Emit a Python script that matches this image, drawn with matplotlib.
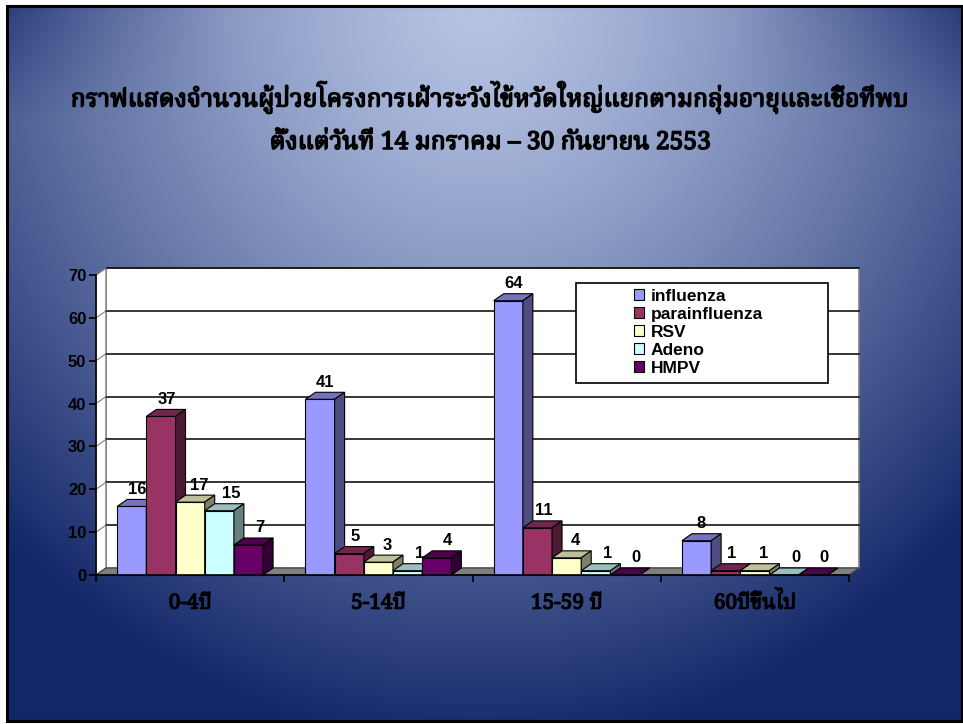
import matplotlib
matplotlib.use('Agg')
import matplotlib.pyplot as plt
from matplotlib.patches import Polygon, Rectangle
from matplotlib import font_manager
import matplotlib.patheffects as pe
import numpy as np

groups = ['0-4ปี', '5-14ปี', '15-59 ปี', '60ปีขึ้นไป']
series = ['influenza', 'parainfluenza', 'RSV', 'Adeno', 'HMPV']
influenza = [16, 41, 64, 8]
parainfluenza = [37, 5, 11, 1]
rsv = [17, 3, 4, 1]
adeno = [15, 1, 1, 0]
hmpv = [7, 4, 0, 0]
values = [influenza, parainfluenza, rsv, adeno, hmpv]
colors = ['#9999FF', '#993366', '#FFFFCC', '#CCFFFF', '#660066']
yticks = list(range(0, 80, 10))
title1 = 'กราฟแสดงจำนวนผู้ป่วยโครงการเฝ้าระวังไข้หวัดใหญ่แยกตามกลุ่มอายุและเชื้อที่พบ'
title2 = 'ตั้งแต่วันที่ 14 มกราคม – 30 กันยายน 2553'


def find_thai_font():
    # look for any installed font that has Thai glyphs
    try:
        from fontTools.ttLib import TTFont
    except ImportError:
        return None
    prefer = ['Norasi', 'Noto Serif Thai', 'Tlwg Typo', 'Garuda', 'Loma', 'Noto Sans Thai',
              'Kinnari', 'Sawasdee', 'Umpush', 'Waree', 'Laksaman']
    found = []
    for f in font_manager.fontManager.ttflist:
        try:
            cmap = TTFont(f.fname, fontNumber=0, lazy=True).getBestCmap()
        except Exception:
            continue
        if cmap and 0x0E01 in cmap:
            found.append(f.name)
    if not found:
        return None
    for p in prefer:
        if p in found:
            return p
    return found[0]


thai = find_thai_font()
tfam = [thai, 'DejaVu Sans'] if thai else ['DejaVu Sans']
afam = ['Liberation Sans', 'DejaVu Sans']
fake_bold = lambda lw: [pe.withStroke(linewidth=lw, foreground='black')]

W, H = 963, 724
fig = plt.figure(figsize=(W / 100, H / 100), dpi=100)
fig.patch.set_facecolor('white')

# slide background with radial gradient
bg = fig.add_axes([0, 0, 1, 1])
bg.set_xlim(0, W)
bg.set_ylim(H, 0)
bg.axis('off')
xx, yy = np.meshgrid(np.arange(7, 962), np.arange(6, 721))
d = np.sqrt(((xx - 480) / 690.0) ** 2 + (yy / 750.0) ** 2)
t = np.clip(d, 0, 1) ** 1.3
# a bit darker towards the top corners
t = np.clip(t + 0.25 * np.clip(1 - yy / 120.0, 0, 1) * np.clip((np.abs(xx - 480) - 250) / 230.0, 0, 1), 0, 1)
light = np.array([182, 196, 228]) / 255.0
dark = np.array([18, 38, 104]) / 255.0
img = light[None, None, :] * (1 - t[..., None]) + dark[None, None, :] * t[..., None]
bg.imshow(img, extent=(7, 962, 721, 6), aspect='auto', interpolation='bilinear')
bg.add_patch(Rectangle((7, 6), 955, 715, fill=False, ec='black', lw=2.2))

# title
for txt, yc in [(title1, 97), (title2, 142)]:
    bg.text(490, yc, txt, ha='center', va='center', fontsize=21, fontweight='bold',
            family=tfam, color='black', path_effects=fake_bold(1.1))

# fit title widths
fig.canvas.draw()
r = fig.canvas.get_renderer()
tl = bg.texts
w1 = tl[0].get_window_extent(r).width
if w1 > 838:
    s = 21 * 838 / w1
    for tx in tl:
        tx.set_fontsize(s)

# plot area
ax = fig.add_axes([96 / W, 1 - 575 / H, 753 / W, 300 / H])
ax.set_xlim(-0.5, 3.5)
ax.set_ylim(0, 70)
ax.patch.set_alpha(0)
pxx = 4 / 753.0
pxy = 70 / 300.0
dx, dy = 10 * pxx, 7 * pxy

ax.add_patch(Polygon([(-0.5 + dx, dy), (3.5 + dx, dy), (3.5 + dx, 70 + dy), (-0.5 + dx, 70 + dy)],
                     closed=True, fc='white', ec='#808080', lw=1.2, clip_on=False, zorder=0.5))
ax.add_patch(Polygon([(-0.5, 0), (-0.5 + dx, dy), (-0.5 + dx, 70 + dy), (-0.5, 70)],
                     closed=True, fc='white', ec='#808080', lw=1.0, clip_on=False, zorder=0.6))
ax.add_patch(Polygon([(-0.5, 0), (3.5, 0), (3.5 + dx, dy), (-0.5 + dx, dy)],
                     closed=True, fc='#808080', ec='#404040', lw=0.8, clip_on=False, zorder=0.7))
for v in yticks[1:]:
    ax.plot([-0.5 + dx, 3.5 + dx], [v + dy, v + dy], color='black', lw=1.1, clip_on=False, zorder=0.8)
    ax.plot([-0.5, -0.5 + dx], [v, v + dy], color='#808080', lw=0.8, clip_on=False, zorder=0.8)


def shade(c, f):
    rgb = np.array(matplotlib.colors.to_rgb(c))
    return tuple(rgb * f)


w = 0.155
label_dx = [5, 6, 9, 12, 11]
for g in range(len(groups)):
    for i, vals in enumerate(values):
        h = vals[g]
        x0 = g + (i - 2.5) * w
        x1 = x0 + w
        c = colors[i]
        ax.add_patch(Rectangle((x0, 0), w, h, fc=c, ec='black', lw=0.8, zorder=2, clip_on=False))
        ax.add_patch(Polygon([(x0, h), (x1, h), (x1 + dx, h + dy), (x0 + dx, h + dy)], closed=True,
                             fc=shade(c, 0.75), ec='black', lw=0.8, zorder=2, clip_on=False))
        ax.add_patch(Polygon([(x1, 0), (x1 + dx, dy), (x1 + dx, h + dy), (x1, h)], closed=True,
                             fc=shade(c, 0.5), ec='black', lw=0.8, zorder=2, clip_on=False))
        ax.annotate(str(h), (x0 + w / 2, h), xytext=(label_dx[i] * 0.72, 17 * 0.72),
                    textcoords='offset points', ha='center', va='center', fontsize=12,
                    fontweight='bold', family=afam, zorder=3)

for sp in ['top', 'right']:
    ax.spines[sp].set_visible(False)
for sp in ['left', 'bottom']:
    ax.spines[sp].set_color('black')
    ax.spines[sp].set_linewidth(1.2)
    ax.spines[sp].set_zorder(2.5)

ax.set_yticks(yticks)
ax.set_yticklabels([str(v) for v in yticks], fontsize=12, fontweight='bold', family=afam)
ax.tick_params(axis='y', length=5, width=1.2, direction='out', pad=2)
ax.set_xticks(range(len(groups)))
ax.set_xticklabels(groups, fontsize=15, fontweight='bold', family=tfam)
for lab in ax.get_xticklabels():
    lab.set_path_effects(fake_bold(0.9))
ax.set_xticks(np.arange(-0.5, 4, 1), minor=True)
ax.tick_params(axis='x', which='major', length=0, pad=12)
ax.tick_params(axis='x', which='minor', length=5, width=1.2, direction='out')

# legend
box = Rectangle((576 / W, 1 - 383 / H), 252 / W, 100 / H, transform=fig.transFigure,
                fc='white', ec='black', lw=1.2, zorder=3)
fig.add_artist(box)
handles = [Rectangle((0, 0), 1, 1, fc=c, ec='black', lw=0.8) for c in colors]
leg = fig.legend(handles, series, loc='upper left', bbox_to_anchor=(634 / W, 1 - 289 / H),
                 frameon=False, prop={'family': afam, 'weight': 'bold', 'size': 12.5},
                 handlelength=0.6, handleheight=0.6, handletextpad=0.35, labelspacing=0.17,
                 borderpad=0, borderaxespad=0)
leg.set_zorder(4)

fig.savefig('out.png', dpi=100, facecolor=fig.get_facecolor())
